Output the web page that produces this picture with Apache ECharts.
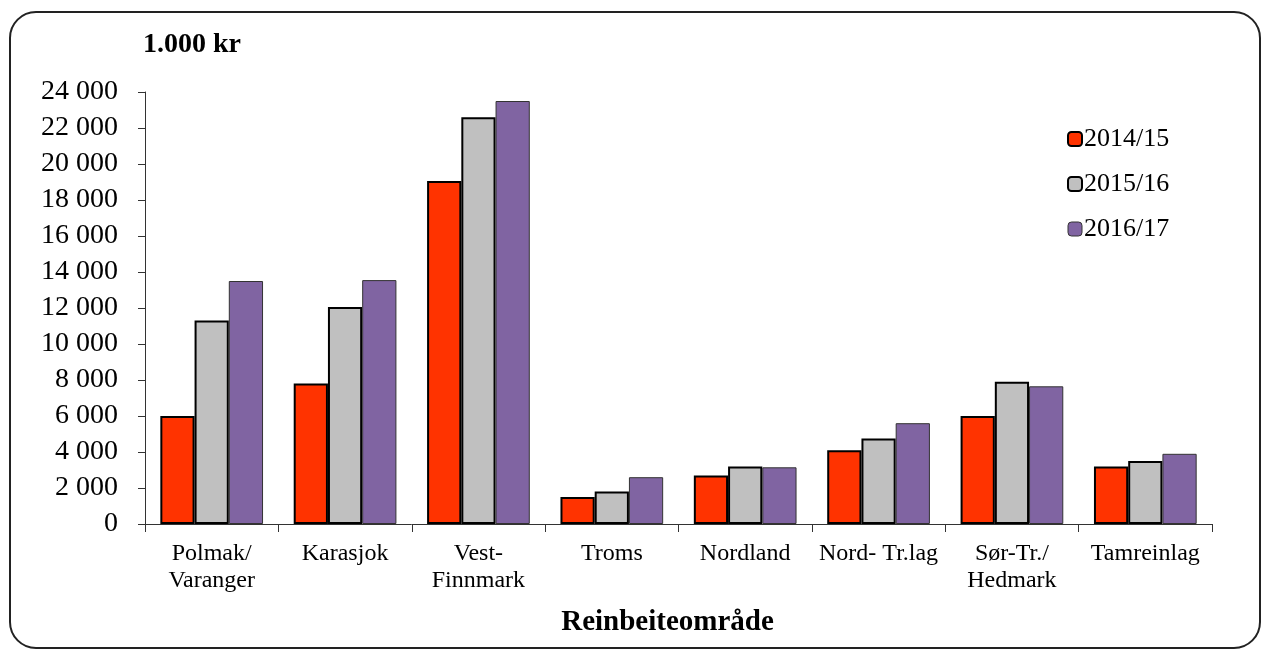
<!DOCTYPE html>
<html>
<head>
<meta charset="utf-8">
<script src="https://cdn.jsdelivr.net/npm/echarts@6/dist/echarts.min.js"></script>
<style>
html,body{margin:0;padding:0;background:#fff;}
#chart{width:1266px;height:652px;}
</style>
</head>
<body>
<div id="chart"></div>
<script>
const categories = ["Polmak/\nVaranger", "Karasjok", "Vest-\nFinnmark", "Troms", "Nordland", "Nord- Tr.lag", "Sør-Tr./\nHedmark", "Tamreinlag"];
const seriesNames = ["2014/15", "2015/16", "2016/17"];
const values2014 = [6000, 7800, 19050, 1500, 2700, 4100, 6000, 3200];
const values2015 = [11300, 12050, 22600, 1800, 3200, 4750, 7900, 3500];
const values2016 = [13500, 13550, 23500, 2600, 3150, 5600, 7650, 3900];
const colors = ["#FF3300", "#C0C0C0", "#8064A2"];
const FONT = "'Liberation Serif', 'DejaVu Serif', serif";

const chart = echarts.init(document.getElementById('chart'));
const dataSets = [values2014, values2015, values2016];
const borderWidths = [2, 2, 1];
const borderColors = ['#000', '#000', '#333'];

chart.setOption({
  animation: false,
  textStyle: { fontFamily: FONT },
  graphic: [{
    type: 'rect',
    shape: { x: 10, y: 12, width: 1250, height: 636, r: 26 },
    style: { fill: 'none', stroke: '#222', lineWidth: 2 },
    silent: true
  }, {
    type: 'text',
    left: 143, top: 31,
    style: { text: '1.000 kr', font: "bold 28px 'Liberation Serif', serif", fill: '#000' }
  }],
  legend: {
    orient: 'vertical',
    left: 1062, top: 121,
    itemWidth: 14, itemHeight: 14, itemGap: 19,
    textStyle: { fontFamily: FONT, fontSize: 26, color: '#000', padding: [0,0,0,-3] },
    data: seriesNames.map((n, i) => ({ name: n, itemStyle: { borderColor: borderColors[i], borderWidth: borderWidths[i] } }))
  },
  grid: { left: 145, right: 54, top: 92, bottom: 128 },
  xAxis: {
    type: 'category',
    data: categories,
    name: 'Reinbeiteområde',
    nameLocation: 'middle',
    nameGap: 84,
    nameTextStyle: { fontFamily: FONT, fontSize: 29, fontWeight: 'bold', color: '#000', padding: [0, 22, 0, 0] },
    axisLine: { lineStyle: { color: '#333', width: 1 } },
    axisTick: { show: true, length: 8, lineStyle: { color: '#333' }, alignWithLabel: false },
    axisLabel: { fontFamily: FONT, fontSize: 24, color: '#000', margin: 16, lineHeight: 27, interval: 0 }
  },
  yAxis: {
    type: 'value',
    min: 0, max: 24000, interval: 2000,
    axisLine: { show: true, lineStyle: { color: '#333', width: 1 } },
    axisTick: { show: true, length: 7, lineStyle: { color: '#333' } },
    splitLine: { show: false },
    axisLabel: {
      fontFamily: FONT, fontSize: 28, color: '#000', margin: 27,
      formatter: v => String(v).replace(/\B(?=(\d{3})+(?!\d))/g, ' ')
    }
  },
  series: dataSets.map((d, i) => ({
    name: seriesNames[i],
    type: 'bar',
    data: d,
    barGap: '0%',
    barCategoryGap: '23%',
    itemStyle: { color: colors[i], borderColor: borderColors[i], borderWidth: borderWidths[i] }
  }))
});
</script>
</body>
</html>
